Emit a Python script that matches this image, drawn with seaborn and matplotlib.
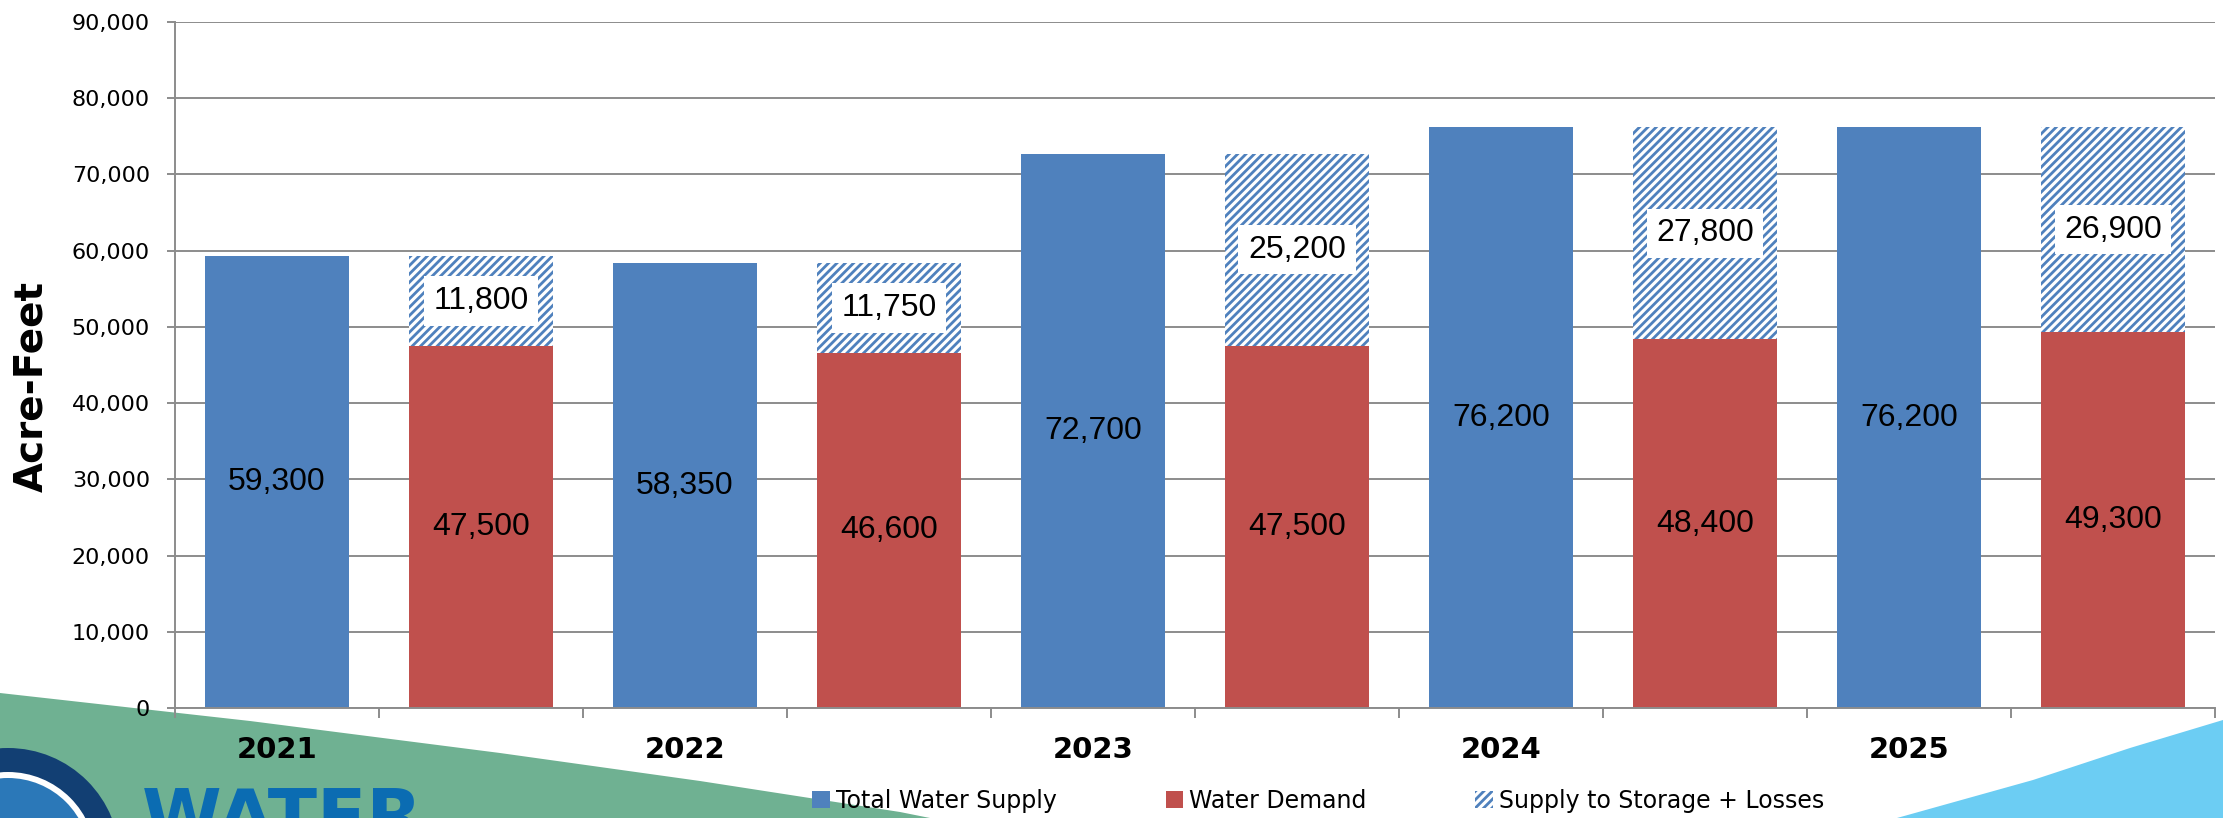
"""
Water supply vs. demand chart (2021-2025), stacked with storage + losses.
"""

import matplotlib
matplotlib.use("Agg")
import matplotlib.pyplot as plt
import matplotlib.patches as mpatches
from matplotlib.ticker import StrMethodFormatter, FixedLocator
import seaborn as sns
import pandas as pd

# Data (acre-feet)
years = ["2021", "2022", "2023", "2024", "2025"]
total_supply = [59300, 58350, 72700, 76200, 76200]
water_demand = [47500, 46600, 47500, 48400, 49300]
storage_losses = [11800, 11750, 25200, 27800, 26900]

BLUE = "#4f81bd"
RED = "#c0504d"
GRID = "#8c8c8c"
W, H = 2223, 818

sns.set_style("white")
plt.rcParams["font.family"] = ["DejaVu Sans"]
plt.rcParams["text.color"] = "black"
plt.rcParams["axes.labelcolor"] = "black"
plt.rcParams["xtick.color"] = "black"
plt.rcParams["ytick.color"] = "black"
plt.rcParams["hatch.color"] = BLUE
plt.rcParams["hatch.linewidth"] = 2.0

# one slot per bar: supply bar then demand stack for every year
slots = []
for y in years:
    slots += [f"{y} supply", f"{y} demand"]

supply_df = pd.DataFrame({"slot": [f"{y} supply" for y in years],
                          "acre_feet": total_supply})
demand_df = pd.DataFrame({"slot": [f"{y} demand" for y in years],
                          "acre_feet": water_demand,
                          "storage": storage_losses})
demand_df["stack_top"] = demand_df["acre_feet"] + demand_df["storage"]

fig = plt.figure(figsize=(W / 100, H / 100), dpi=100)
ax = fig.add_axes([175 / W, 1 - 708 / H, (2215 - 175) / W, (708 - 22) / H])


def img_pts(pts):
    return [(x / W, 1 - y / H) for x, y in pts]


# background decoration (green and blue swooshes, logo)
fig.patches.append(mpatches.Polygon(
    img_pts([(0, 693), (250, 721), (500, 753), (700, 781), (900, 812),
             (930, 818), (0, 818)]),
    closed=True, transform=fig.transFigure, facecolor="#6fb192",
    edgecolor="none", zorder=-5))
fig.patches.append(mpatches.Polygon(
    img_pts([(1897, 818), (2033, 780), (2130, 748), (2223, 720), (2223, 818)]),
    closed=True, transform=fig.transFigure, facecolor="#6ccdf3",
    edgecolor="none", zorder=-5))
for r, c in [(112, "#123f73"), (88, "white"), (82, "#2b78b8")]:
    fig.patches.append(mpatches.Ellipse(
        (8 / W, 1 - 860 / H), 2 * r / W, 2 * r / H, transform=fig.transFigure,
        facecolor=c, edgecolor="none", zorder=-4))
fig.text(142 / W, 1 - 786 / H, "WATER", color="#0b6cb2", fontsize=52,
         fontweight="bold", va="top", ha="left", zorder=-3)

# bars
sns.barplot(data=supply_df, x="slot", y="acre_feet", order=slots, color=BLUE,
            saturation=1, width=0.71, linewidth=0, ax=ax)
sns.barplot(data=demand_df, x="slot", y="stack_top", order=slots, color="white",
            saturation=1, width=0.71, linewidth=0, edgecolor=BLUE, hatch="////",
            ax=ax)
sns.barplot(data=demand_df, x="slot", y="acre_feet", order=slots, color=RED,
            saturation=1, width=0.71, linewidth=0, ax=ax)

supply_bars, storage_bars, demand_bars = ax.containers[:3]
ax.bar_label(supply_bars, labels=[f"{v:,}" for v in total_supply],
             label_type="center", fontsize=23, family="Liberation Sans",
             color="black")
ax.bar_label(demand_bars, labels=[f"{v:,}" for v in water_demand],
             label_type="center", fontsize=23, family="Liberation Sans",
             color="black")
for bar, d, s in zip(storage_bars, water_demand, storage_losses):
    ax.text(bar.get_x() + bar.get_width() / 2, d + s / 2, f"{s:,}",
            ha="center", va="center", fontsize=23, family="Liberation Sans",
            color="black",
            bbox=dict(boxstyle="square,pad=0.3", facecolor="white",
                      edgecolor="none"))

# axes styling
ax.set_xlim(-0.5, len(slots) - 0.5)
ax.set_ylim(0, 90000)
ax.set_yticks(range(0, 90001, 10000))
ax.yaxis.set_major_formatter(StrMethodFormatter("{x:,.0f}"))
ax.grid(axis="y", color=GRID, linewidth=1.4)
ax.set_axisbelow(True)
for side in ["top", "right"]:
    ax.spines[side].set_visible(False)
for side in ["left", "bottom"]:
    ax.spines[side].set_color(GRID)
    ax.spines[side].set_linewidth(1.4)

ax.xaxis.set_major_locator(FixedLocator([i - 0.5 for i in range(len(slots) + 1)]))
ax.xaxis.set_minor_locator(FixedLocator([2 * i for i in range(len(years))]))
ax.set_xticklabels([""] * (len(slots) + 1))
ax.set_xticklabels(years, minor=True, fontsize=21, fontweight="bold")
ax.tick_params(axis="x", which="major", direction="out", length=7,
               width=1.4, color=GRID, bottom=True)
ax.tick_params(axis="x", which="minor", length=0, pad=20, bottom=True)
ax.tick_params(axis="y", direction="out", length=6, width=1.4, color=GRID,
               labelsize=16, left=True, pad=12)

ax.set_xlabel("")
ax.set_ylabel("Acre-Feet", fontsize=28, fontweight="bold")
ax.yaxis.set_label_coords(-0.0613, 0.469)

handles = [
    mpatches.Patch(facecolor=BLUE, edgecolor="none"),
    mpatches.Patch(facecolor=RED, edgecolor="none"),
    mpatches.Patch(facecolor="white", edgecolor=BLUE, linewidth=0, hatch="////"),
]
fig.legend(handles, ["Total Water Supply", "Water Demand",
                     "Supply to Storage + Losses"],
           loc="center", bbox_to_anchor=(0.593, 0.021), ncol=3, frameon=False,
           fontsize=17, handlelength=0.75, handleheight=0.75,
           handletextpad=0.25, columnspacing=4.6)

fig.savefig("out.png", dpi=100)
